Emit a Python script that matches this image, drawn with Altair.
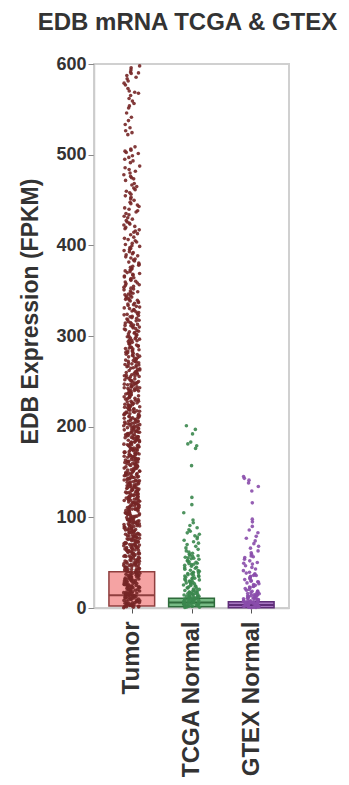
import altair as alt
import pandas as pd

categories = ["Tumor", "TCGA Normal", "GTEX Normal"]

tumor_values = [
    # 0-25
    0.4, 1.1, 1.7, 2.3, 2.9, 3.2, 3.8, 4.5, 5.1, 5.6, 6.2, 6.9, 7.4, 8.0, 8.7, 9.3, 9.8, 10.6, 11.2, 11.9,
    12.5, 13.0, 13.8, 14.4, 15.1, 15.7, 16.2, 16.9, 17.5, 18.3, 18.8, 19.6, 20.1, 20.9, 21.4, 22.2, 22.7, 23.5, 24.2, 24.8,
    0.9, 2.0, 3.5, 4.8, 6.0, 7.7, 9.0, 10.1, 11.5, 12.8, 14.0, 15.4, 16.6, 17.8, 19.0, 20.5, 21.8, 23.1, 24.5,
    1.4, 3.0, 5.3, 7.1, 8.4, 10.9, 12.2, 13.4, 15.9, 18.0, 20.7, 22.9, 24.0,
    # 25-50
    25.3, 25.9, 26.6, 27.2, 27.9, 28.4, 29.1, 29.8, 30.3, 31.0, 31.6, 32.3, 32.9, 33.5, 34.2, 34.8, 35.4, 36.1, 36.7, 37.3,
    38.0, 38.6, 39.2, 39.9, 40.5, 41.1, 41.8, 42.4, 43.0, 43.7, 44.3, 44.9, 45.6, 46.2, 46.8, 47.5, 48.1, 48.7, 49.4, 49.9,
    26.0, 27.6, 29.4, 31.3, 33.1, 34.9, 36.5, 38.3, 40.1, 41.9, 43.5, 45.2, 47.0, 48.9, 25.7, 28.8, 32.0, 35.7, 39.5, 42.7,
    46.0, 49.1, 30.7, 37.8, 44.6, 27.0, 33.9, 40.9, 47.9, 36.0,
    # 50-75
    50.4, 51.2, 51.9, 52.6, 53.4, 54.1, 54.9, 55.6, 56.3, 57.1, 57.8, 58.6, 59.3, 60.0, 60.8, 61.5, 62.3, 63.0, 63.8, 64.5,
    65.2, 66.0, 66.7, 67.5, 68.2, 68.9, 69.7, 70.4, 71.2, 71.9, 72.6, 73.4, 74.1, 74.8,
    50.9, 53.0, 55.2, 57.4, 59.7, 61.9, 64.1, 66.3, 68.6, 70.8, 73.0, 74.5, 52.1, 56.8, 60.4, 64.9, 69.2, 72.3, 51.6, 58.1,
    62.7, 67.1, 71.5, 54.5, 59.0, 63.4, 65.8, 70.0, 73.8, 57.6, 61.1, 66.9, 69.4, 55.9,
    # 75-100
    75.5, 76.3, 77.2, 78.0, 78.9, 79.7, 80.6, 81.4, 82.3, 83.1, 84.0, 84.8, 85.7, 86.5, 87.4, 88.2, 89.1, 89.9, 90.8, 91.6,
    92.5, 93.3, 94.2, 95.0, 95.9, 96.7, 97.6, 98.4, 99.3,
    76.0, 78.5, 81.0, 83.6, 86.1, 88.7, 91.2, 93.8, 96.3, 98.9, 77.6, 80.1, 82.8, 85.2, 87.9, 90.4, 92.9, 95.5, 97.9, 99.7,
    79.3, 84.4, 89.5, 94.7, 76.8, 81.9, 87.0, 92.1, 97.2, 83.9, 90.0, 95.7, 86.8, 80.9, 93.0, 98.0, 75.9,
    # 100-125
    100.4, 101.3, 102.1, 103.0, 103.9, 104.7, 105.6, 106.5, 107.3, 108.2, 109.1, 109.9, 110.8, 111.7, 112.5, 113.4, 114.3,
    115.1, 116.0, 116.9, 117.7, 118.6, 119.5, 120.3, 121.2, 122.1, 122.9, 123.8, 124.6,
    101.0, 103.5, 106.0, 108.6, 111.1, 113.7, 116.4, 118.9, 121.5, 124.0, 102.6, 105.1, 107.8, 110.3, 112.9, 115.6, 118.1,
    120.8, 123.3, 100.9, 104.3, 109.5, 114.8, 119.9, 124.3, 106.9, 111.9, 117.2, 122.5, 108.9, 113.0, 120.0, 103.8, 116.6, 110.0,
    # 125-150
    125.5, 126.4, 127.3, 128.2, 129.1, 130.0, 130.9, 131.8, 132.7, 133.6, 134.5, 135.4, 136.3, 137.2, 138.1, 139.0, 139.9,
    140.8, 141.7, 142.6, 143.5, 144.4, 145.3, 146.2, 147.1, 148.0, 148.9, 149.7,
    126.0, 128.7, 131.3, 134.0, 136.8, 139.5, 142.1, 144.9, 147.6, 125.9, 129.8, 133.1, 137.9, 141.2, 145.8, 149.2, 127.8,
    132.2, 135.9, 140.3, 143.9, 148.4, 130.5, 138.6, 146.7, 134.9, 142.9, 126.9, 136.0, 144.0, 128.9, 140.0, 147.9, 132.9,
    # 150-175
    150.5, 151.5, 152.4, 153.4, 154.3, 155.3, 156.2, 157.2, 158.1, 159.1, 160.0, 161.0, 161.9, 162.9, 163.8, 164.8, 165.7,
    166.7, 167.6, 168.6, 169.5, 170.5, 171.4, 172.4, 173.3, 174.3,
    151.0, 154.0, 157.0, 160.4, 163.3, 166.2, 169.1, 172.0, 174.8, 152.8, 155.9, 158.8, 161.7, 164.5, 167.3, 170.9, 173.8,
    150.9, 156.7, 162.3, 168.1, 171.9, 153.9, 159.6, 165.2, 170.0, 158.5, 163.9, 152.1, 167.0, 174.0, 155.7, 161.3, 169.8,
    # 175-200
    175.5, 176.5, 177.6, 178.6, 179.7, 180.7, 181.8, 182.8, 183.9, 184.9, 186.0, 187.0, 188.1, 189.1, 190.2, 191.2, 192.3,
    193.3, 194.4, 195.4, 196.5, 197.5, 198.6, 199.6,
    176.0, 179.2, 182.3, 185.5, 188.6, 191.8, 194.9, 198.0, 177.9, 181.1, 184.3, 187.5, 190.6, 193.8, 196.9, 199.1, 175.9,
    180.1, 185.0, 189.7, 195.0, 178.9, 183.4, 192.8, 197.8, 186.8, 180.0, 188.9, 194.0, 176.9, 183.0, 191.0, 198.9, 187.9,
    # 200-225
    200.5, 201.6, 202.7, 203.8, 204.9, 206.0, 207.1, 208.2, 209.3, 210.4, 211.5, 212.6, 213.7, 214.8, 215.9, 217.0, 218.1,
    219.2, 220.3, 221.4, 222.5, 223.6, 224.7,
    201.0, 204.3, 207.7, 211.0, 214.2, 217.6, 220.9, 224.1, 202.2, 205.5, 209.8, 213.1, 216.5, 219.8, 223.0, 200.9, 206.6,
    212.0, 218.7, 222.0, 203.3, 210.0, 215.4, 221.9, 208.8, 216.0, 224.0, 205.0, 213.9, 219.5, 202.9,
    # 225-250
    225.6, 226.8, 227.9, 229.1, 230.2, 231.4, 232.5, 233.7, 234.8, 236.0, 237.1, 238.3, 239.4, 240.6, 241.7, 242.9, 244.0,
    245.2, 246.3, 247.5, 248.6, 249.7,
    226.2, 229.8, 233.1, 236.6, 240.0, 243.5, 247.0, 228.0, 231.9, 235.3, 238.9, 242.2, 245.9, 249.1, 227.4, 234.0, 241.1,
    248.0, 230.8, 237.7, 244.6, 225.9, 239.9, 232.9, 246.9, 243.0,
    # 250-275
    250.6, 251.8, 253.0, 254.2, 255.4, 256.6, 257.8, 259.0, 260.2, 261.4, 262.6, 263.8, 265.0, 266.2, 267.4, 268.6, 269.8,
    271.0, 272.2, 273.4, 274.6,
    251.2, 254.9, 258.5, 262.0, 265.8, 269.3, 273.0, 252.7, 256.1, 260.8, 264.4, 268.0, 271.9, 250.9, 257.2, 263.1, 270.4,
    274.0, 255.9, 266.9, 259.7,
    # 275-300
    275.7, 277.0, 278.3, 279.6, 280.9, 282.2, 283.5, 284.8, 286.1, 287.4, 288.7, 290.0, 291.3, 292.6, 293.9, 295.2, 296.5,
    297.8, 299.1,
    276.3, 280.0, 283.9, 287.9, 291.8, 295.9, 299.6, 278.9, 282.8, 286.9, 290.9, 294.7, 298.5, 277.8, 285.6, 293.0, 281.6,
    289.3, 296.9,
    # 300-325
    300.8, 302.3, 303.8, 305.3, 306.8, 308.3, 309.8, 311.3, 312.8, 314.3, 315.8, 317.3, 318.8, 320.3, 321.8, 323.3, 324.6,
    301.5, 305.9, 310.2, 314.9, 319.5, 323.9, 303.1, 307.6, 312.0, 316.7, 321.1, 304.6, 309.0, 313.6, 318.0, 322.6, 311.7,
    # 325-350
    325.9, 327.6, 329.3, 331.0, 332.7, 334.4, 336.1, 337.8, 339.5, 341.2, 342.9, 344.6, 346.3, 348.0, 349.6,
    326.7, 330.2, 333.6, 337.0, 340.4, 343.8, 347.2, 328.5, 335.3, 342.0, 348.8, 331.9, 338.7, 345.4, 339.9,
    # 350-375
    350.9, 352.8, 354.7, 356.6, 358.5, 360.4, 362.3, 364.2, 366.1, 368.0, 369.9, 371.8, 373.7,
    351.8, 355.6, 359.5, 363.3, 367.1, 370.9, 374.6, 353.7, 361.4, 365.2, 372.7, 357.6, 368.9,
    # 375-400
    375.8, 378.1, 380.4, 382.7, 385.0, 387.3, 389.6, 391.9, 394.2, 396.5, 398.8,
    376.9, 381.5, 386.1, 390.7, 395.3, 399.5, 379.2, 383.8, 388.4, 393.0, 397.6,
    # 400-425
    400.9, 403.6, 406.3, 409.0, 411.7, 414.4, 417.1, 419.8, 422.5, 424.6, 402.2, 407.7, 412.9, 418.3, 423.4, 405.0, 415.8, 420.9,
    # 425-450
    425.8, 428.9, 432.0, 435.1, 438.2, 441.3, 444.4, 447.5, 449.6, 427.3, 433.6, 439.8, 446.0, 430.5, 436.7, 442.9,
    # 450-475
    451.2, 454.6, 458.0, 461.4, 464.8, 468.2, 471.6, 474.5, 452.9, 459.7, 466.5, 473.3, 456.3, 463.1,
    # 475-500
    476.0, 479.8, 483.6, 487.4, 491.2, 495.0, 498.8, 477.9, 485.5, 493.1, 481.7, 497.0,
    # 500-525
    501.3, 503.9, 506.2, 508.6, 505.0, 502.5, 522.1, 524.3,
    # 525-550
    526.4, 529.7, 533.2, 537.6, 541.3, 546.0,
    # 550-575
    551.4, 553.8, 556.5, 559.1, 562.0, 565.3, 567.7, 570.2, 572.9, 568.9,
    # 575-600
    576.8, 578.9, 581.2, 583.6, 585.4, 587.3, 589.6, 591.1, 593.5, 595.8, 597.9, 590.2,
]

tcga_normal_values = [
    201, 197, 192, 183, 181, 179, 176, 157, 122, 114, 105, 97, 94, 91,
    88.5, 86.2, 84.7, 82.9, 81.3, 79.6, 78.2, 76.4, 74.8, 73.1, 71.5, 69.9, 68.0, 66.3, 64.7, 63.0, 61.6, 60.4,
    59.3, 58.2, 57.1, 56.0, 54.9, 53.8, 52.7, 51.6, 50.5, 49.4, 48.3, 47.2, 46.1, 45.0, 43.9, 42.8, 41.7, 40.6,
    57.7, 54.3, 51.0, 47.8, 44.5, 41.2, 55.5, 49.0,
    39.5, 38.6, 37.6, 36.7, 35.7, 34.8, 33.8, 32.9, 31.9, 31.0, 30.0, 29.1, 28.1, 27.2, 26.2, 25.3, 24.3, 23.4, 22.4,
    21.5, 20.5, 38.1, 35.2, 32.4, 29.6, 26.7, 23.9, 21.0, 36.2, 30.5, 24.8, 33.3, 27.7, 22.0, 39.0,
    19.6, 19.0, 18.3, 17.7, 17.0, 16.4, 15.7, 15.1, 14.4, 13.8, 13.1, 12.5, 11.8, 11.2, 10.5, 9.9, 9.2, 8.6, 7.9, 7.3,
    6.6, 6.0, 5.3, 4.7, 4.0, 3.4, 2.7, 2.1, 1.4, 0.8,
    18.7, 16.1, 13.5, 10.9, 8.3, 5.7, 3.1, 0.5, 17.4, 14.8, 12.2, 9.6, 7.0, 4.4, 1.8, 15.9, 11.5, 7.6, 3.7, 19.3,
    13.0, 6.3, 1.1, 10.2, 4.9, 2.4, 8.9, 12.8, 5.0, 9.4,
]

gtex_normal_values = [
    145, 143, 141, 138, 134, 129, 116, 98, 95, 90, 86, 83, 79, 77, 74, 71, 68, 66, 63, 61,
    59.2, 57.4, 55.6, 53.8, 52.0, 50.2, 48.4, 46.6, 44.8, 43.0, 41.2, 56.5, 49.3,
    39.4, 38.5, 37.6, 36.7, 35.8, 34.9, 34.0, 33.1, 32.2, 31.3, 30.4, 29.5, 28.6, 27.7, 26.8, 25.9, 25.0, 24.1, 23.2,
    22.3, 21.4, 20.5, 36.0, 29.0, 23.7,
    19.5, 18.8, 18.1, 17.4, 16.7, 16.0, 15.3, 14.6, 13.9, 13.2, 12.5, 11.8, 11.1, 10.4, 9.7, 9.0, 8.3, 7.6, 6.9, 6.2,
    5.5, 4.8, 4.1, 3.4, 2.7, 2.0, 1.3, 0.6,
    0.3, 1.0, 1.7, 2.4, 3.1, 3.8, 4.5, 5.2, 5.9, 6.6, 7.3, 8.0, 8.7, 9.4, 10.1, 11.5, 12.9, 14.3, 15.7, 17.1,
    18.5, 2.2, 4.3, 6.4, 8.5, 10.8, 13.6, 0.9, 3.6, 7.1, 5.6, 1.9,
]

box_q1 = [2.2, 1.4, 0.3]
box_median = [14, 6, 3.3]
box_q3 = [40, 10.7, 7]

y_ticks = [0, 100, 200, 300, 400, 500, 600]

point_colors = ["#762626", "#3b874e", "#8a4cab"]
box_fills = ["#f5a3a3", "#77bb85", "#a776c2"]
box_strokes = ["#8f3f3f", "#2e6b3b", "#5e2d78"]

FONT = "Liberation Sans"
TEXT = "#333333"

rows = []
for ci, vals in enumerate([tumor_values, tcga_normal_values, gtex_normal_values]):
    for i, v in enumerate(vals):
        rows.append({"category": categories[ci], "ci": ci, "i": i, "value": v})
points_df = pd.DataFrame(rows)

box_df = pd.DataFrame({
    "category": categories,
    "ci": list(range(len(categories))),
    "q1": box_q1,
    "median": box_median,
    "q3": box_q3,
})

label_expr = " : ".join(
    [f"datum.value == {k} ? '{c}'" for k, c in enumerate(categories[:-1])] + [f"'{categories[-1]}'"]
)

x_scale = alt.Scale(domain=[-0.633, 2.633], nice=False, zero=False)
y_scale = alt.Scale(domain=[0, 600], nice=False)

x_axis = alt.Axis(
    values=[0, 1, 2], labelExpr=label_expr, labelAngle=270, title=None, grid=False,
    labelFont=FONT, labelFontSize=24, labelFontWeight="bold", labelColor=TEXT,
    tickSize=5, tickColor="#555555", labelPadding=8, domainColor="#cccccc", domainWidth=1.5,
)
y_axis = alt.Axis(
    values=y_ticks, grid=False, title="EDB Expression (FPKM)",
    labelFont=FONT, labelFontSize=18, labelFontWeight="bold", labelColor=TEXT,
    tickSize=6, tickColor="#888888", labelPadding=2, domainColor="#cccccc", domainWidth=1.5,
    titleFont=FONT, titleFontSize=23, titleFontWeight="bold", titleColor=TEXT,
    titleAngle=270, titleX=-64, titleY=247, titleAlign="center", titleBaseline="middle",
)

fill_scale = alt.Scale(domain=categories, range=box_fills)
stroke_scale = alt.Scale(domain=categories, range=box_strokes)
color_scale = alt.Scale(domain=categories, range=point_colors)

boxes = alt.Chart(box_df).transform_calculate(
    x0="datum.ci - 0.383", x1="datum.ci + 0.383"
).mark_rect(strokeWidth=1.5).encode(
    x=alt.X("x0:Q", scale=x_scale, axis=x_axis),
    x2="x1:Q",
    y=alt.Y("q1:Q", scale=y_scale, axis=y_axis),
    y2="q3:Q",
    fill=alt.Fill("category:N", scale=fill_scale, legend=None),
    stroke=alt.Stroke("category:N", scale=stroke_scale, legend=None),
)

medians = alt.Chart(box_df).transform_calculate(
    x0="datum.ci - 0.383", x1="datum.ci + 0.383"
).mark_rule(strokeWidth=2).encode(
    x=alt.X("x0:Q", scale=x_scale, axis=x_axis),
    x2="x1:Q",
    y=alt.Y("median:Q", scale=y_scale, axis=y_axis),
    stroke=alt.Stroke("category:N", scale=stroke_scale, legend=None),
)

points = alt.Chart(points_df).transform_calculate(
    h="sin(datum.i * 12.9898 + datum.ci * 78.233) * 43758.5453"
).transform_calculate(
    xj="datum.ci + (datum.h - floor(datum.h) - 0.5) * 0.27"
).mark_circle(size=13, opacity=0.9).encode(
    x=alt.X("xj:Q", scale=x_scale, axis=x_axis),
    y=alt.Y("value:Q", scale=y_scale, axis=y_axis),
    color=alt.Color("category:N", scale=color_scale, legend=None),
)

chart = alt.layer(boxes, medians, points).properties(
    width=195,
    height=544,
    title=alt.TitleParams(
        "EDB mRNA TCGA & GTEX", font=FONT, fontSize=24, fontWeight="bold", color=TEXT,
        anchor="middle", frame="group", offset=20, dx=-4,
    ),
    padding={"left": 86, "top": 56, "right": 52, "bottom": 169},
    autosize=alt.AutoSizeParams(type="none"),
).configure_view(stroke="#d0d0d0", strokeWidth=2)

chart.save("out.html", embed_options={"renderer": "svg", "actions": False})
